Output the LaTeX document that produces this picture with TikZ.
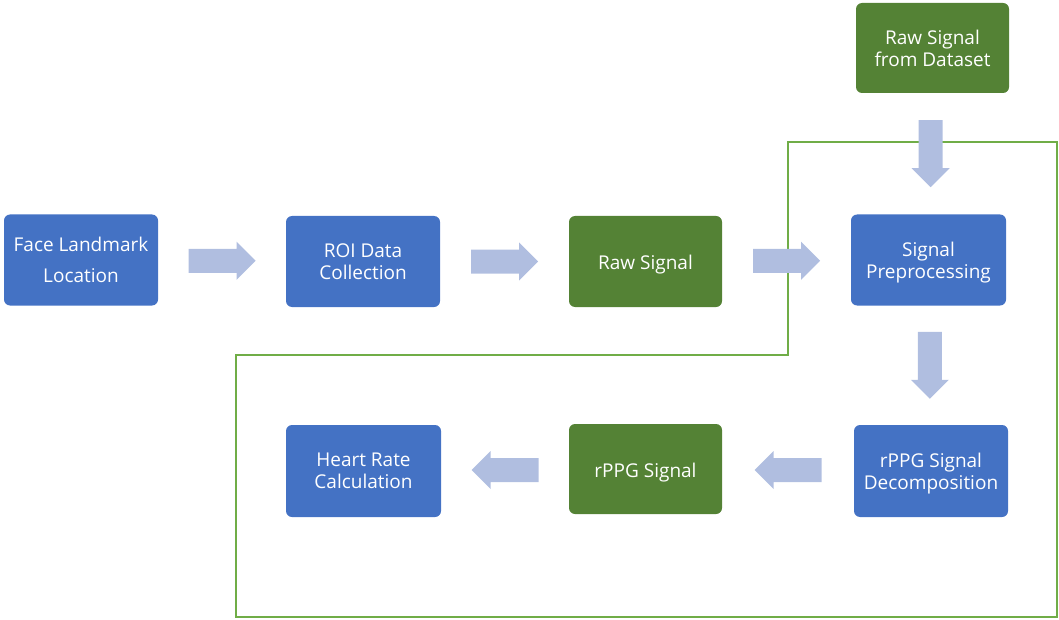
\documentclass[tikz,border=0pt]{standalone}
\usepackage{fontspec}
\setmainfont{Open Sans}
\usetikzlibrary{calc}
\definecolor{boxblue}{HTML}{4472C4}
\definecolor{boxgreen}{HTML}{548235}
\definecolor{arrowfill}{HTML}{B0BEE0}
\definecolor{outlinegreen}{HTML}{70AD47}
\newcommand{\lowtwo}[2]{\raisebox{0pt}[\height][\dimexpr\depth-6pt\relax]{\begin{tabular}{@{}c@{}}#1\\#2\end{tabular}}}
\tikzset{
  box/.style={rounded corners=6pt, fill=boxblue, text=white,
    font=\fontsize{19}{22}\selectfont, align=center, inner sep=0pt,
    minimum width=154pt, minimum height=91pt},
  gbox/.style={box, fill=boxgreen},
  oneline/.style={text height=16.6pt, text depth=0pt},
  outline/.style={draw=outlinegreen, line width=2pt},
  barrow/.pic={\fill[arrowfill] (-33.5,-12) -- (14.5,-12) -- (14.5,-19) -- (33.5,0) -- (14.5,19) -- (14.5,12) -- (-33.5,12) -- cycle;}
}
\begin{document}
\begin{tikzpicture}[x=1pt,y=-1pt]
\useasboundingbox (0,0) rectangle (1059,620);
% nodes
\node[box] (face) at (81,260) {Face Landmark\\[9pt]Location};
\node[box] (roi) at (363,261.5) {ROI Data\\Collection};
\node[gbox, oneline, minimum width=153pt] (raw) at (645.5,261.5) {Raw Signal};
\node[box, minimum width=155pt] (pre) at (928.5,260) {\lowtwo{Signal}{Preprocessing}};
\node[gbox, minimum width=153pt, minimum height=90pt] (ds) at (932.5,48) {Raw Signal\\from Dataset};
\node[box, minimum height=92pt] (dec) at (931,471) {\lowtwo{rPPG Signal}{Decomposition}};
\node[gbox, oneline, minimum width=153pt, minimum height=90pt] (rppg) at (645.5,469) {rPPG Signal};
\node[box, minimum width=155pt, minimum height=92pt] (hr) at (363.5,471) {Heart Rate\\Calculation};
% outline
\draw[outline] (788,142) -- (1057,142) -- (1057,617) -- (236,617) -- (236,355) -- (788,355) -- cycle;
% block arrows
\pic at ($(face.east)!0.5!(roi.west)$) {barrow};
\pic at ($(roi.east)!0.5!(raw.west)$) {barrow};
\pic at ($(raw.east)!0.5!(pre.west)$) {barrow};
\pic[rotate=-90] at ($(ds.south)!0.5!(pre.north)$) {barrow};
\pic[rotate=-90] at ($(pre.south)!0.5!(dec.north)$) {barrow};
\pic[rotate=180] at ($(dec.west)!0.5!(rppg.east)$) {barrow};
\pic[rotate=180] at ($(rppg.west)!0.5!(hr.east)$) {barrow};
\end{tikzpicture}
\end{document}
